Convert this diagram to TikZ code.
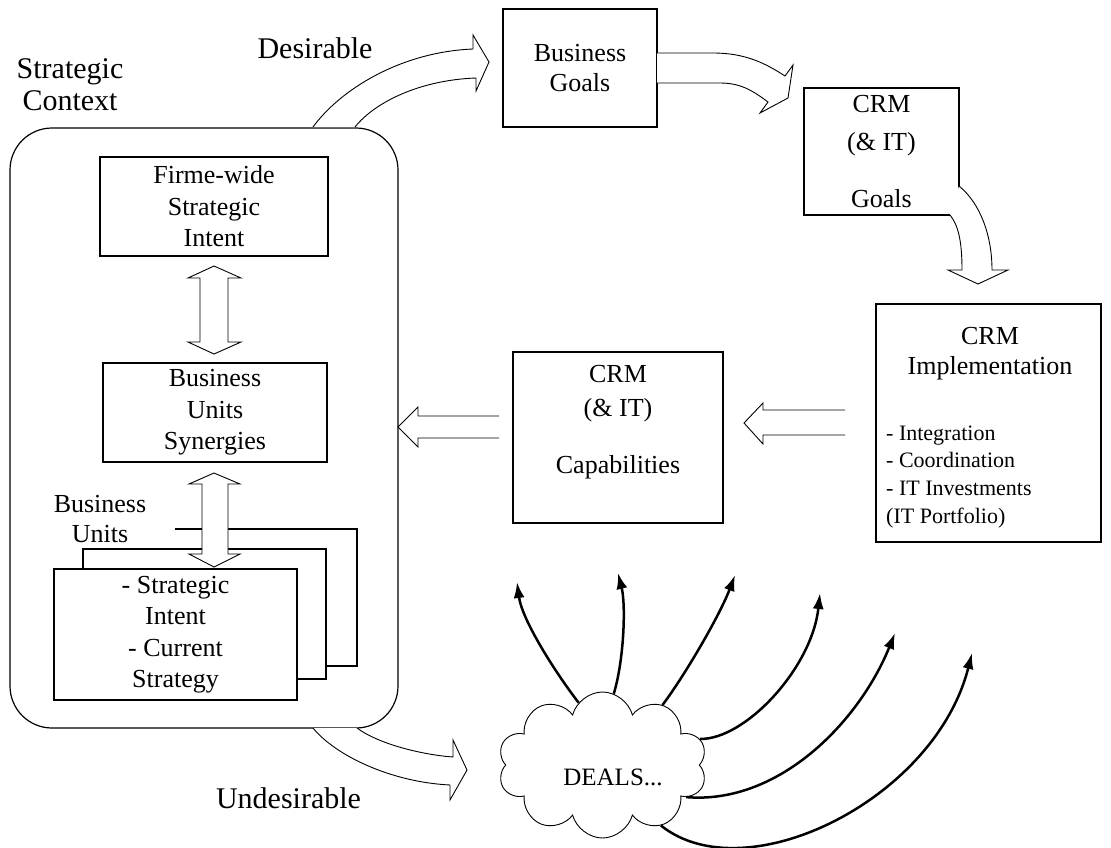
\documentclass[tikz,border=0pt]{standalone}
\usepackage{fontspec}
\setmainfont{Liberation Serif}
\usetikzlibrary{arrows.meta,shapes.symbols}

\tikzset{
  box/.style={draw, line width=1.2pt, fill=white, inner sep=0pt, align=center,
              font=\fontsize{26}{31.5}\selectfont},
  txt/.style={inner sep=0pt, align=center, font=\fontsize{26}{31.5}\selectfont},
  lbl/.style={inner sep=0pt, align=center, font=\fontsize{30}{32}\selectfont},
  blk/.style={draw, line width=0.9pt, fill=white, line join=miter},
  deal/.style={line width=2.5pt, -{Latex[length=16pt,width=11pt]}},
}

\begin{document}
\begin{tikzpicture}[x=1pt, y=-1pt]
\useasboundingbox (0,0) rectangle (1111,847);

% strategic context panel
\node[box, fill=none, rounded corners=42pt, minimum width=388pt, minimum height=600pt] (ctx) at (204,428) {};
\node[lbl, anchor=north] (sclabel) at (70,58.5) {Strategic\\Context};

\node[box, minimum width=228pt, minimum height=99pt] (fw) at (214,206.5) {Firme-wide\\Strategic\\Intent};
\node[box, minimum width=224pt, minimum height=99pt] (bus) at (215,412.5) {Business\\Units\\Synergies};

% stacked business unit sheets
\draw[line width=1.2pt] (175,529) -| (357,666) -- (326,666);
\node[box, minimum width=243pt, minimum height=130pt] (bumid) at (204.5,614) {};
\node[box, minimum width=243pt, minimum height=131pt] (bufront) at (175.5,634.5) {- Strategic\\Intent\\- Current\\Strategy};
\node[txt, anchor=north, font=\fontsize{26}{30}\selectfont] (bulabel) at (100,495.5) {Business\\Units};

% vertical double arrows
\path[blk] (214,266) -- (241,278) -- (228,278) -- (228,342) -- (241,342) -- (214,354)
  -- (188,342) -- (200,342) -- (200,278) -- (188,278) -- cycle;
\path[blk] (214,473) -- (240,484) -- (228,484) -- (228,554) -- (240,554) -- (214,567)
  -- (189,554) -- (202,554) -- (202,484) -- (189,484) -- cycle;

% goal boxes
\node[box, minimum width=154pt, minimum height=118pt, font=\fontsize{26}{30}\selectfont] (bg) at (580,68) {Business\\Goals};
\node[box, minimum width=155pt, minimum height=127pt] (cg) at (881.5,151.5) {CRM\\[6.5pt](\& IT)\\[25.5pt]Goals};

% implementation
\node[box, minimum width=225pt, minimum height=238pt] (impl) at (988.5,423) {};
\node[txt, anchor=north, font=\fontsize{26}{30}\selectfont] (impltitle) at (990,327.5) {CRM\\Implementation};
\node[inner sep=0pt, anchor=north west, align=left, font=\fontsize{22}{27.7}\selectfont] (impllist) at (886,425.4)
  {- Integration\\- Coordination\\- IT Investments\\(IT Portfolio)};

% capabilities
\node[box, minimum width=210pt, minimum height=171pt] (cap) at (618,437.5) {};
\node[txt, anchor=north] (captxt) at (618,365) {CRM\\[2.5pt](\& IT)\\[25.5pt]Capabilities};

% flow arrows
\path[blk] (313,127) .. controls (340,90) and (400,52) .. (473,49) -- (473,35) -- (489,62)
  -- (476,91) -- (476,78) .. controls (420,80) and (375,102) .. (355,127);
\path[blk] (657,53) -- (713,53) .. controls (745,53) and (765,63) .. (785,76) -- (793,65)
  -- (788,98) -- (760,113) -- (768,102) .. controls (752,90) and (740,83) .. (720,83) -- (657,83);
\path[blk] (959,186) .. controls (980,203) and (992,235) .. (992,270) -- (1008,270) -- (978,284)
  -- (948,270) -- (962,270) .. controls (962,240) and (958,225) .. (950,215);
\path[blk] (845,410) -- (763,410) -- (763,403) -- (744,423) -- (763,444) -- (763,435) -- (845,435);
\path[blk] (499,416) -- (418,416) -- (418,407) -- (398,427) -- (418,447) -- (418,438) -- (499,438);
\path[blk] (313,728) .. controls (335,755) and (390,782) .. (450,785) -- (450,800) -- (467,770)
  -- (453,740) -- (453,757) .. controls (425,755) and (380,745) .. (357,728);

\node[lbl, anchor=base] (des) at (315,58) {Desirable};
\node[lbl, anchor=base] (undes) at (288.5,808) {Undesirable};

% deals cloud
\node[cloud, cloud puffs=10, cloud ignores aspect, draw, line width=0.9pt, fill=white,
      minimum width=209pt, minimum height=146pt] (cloud) at (602.5,765) {};
\node[inner sep=0pt, anchor=base, font=\fontsize{25}{30}\selectfont] (dealstxt) at (613,785) {DEALS...};

\coordinate (e1) at (517,582);
\coordinate (e2) at (618,573);
\coordinate (e3) at (735,575);
\coordinate (e4) at (820,593);
\coordinate (e5) at (895,633);
\coordinate (e6) at (972,653);
\draw[deal] (cloud.111) .. controls (555,672) and (522,620) .. (e1);
\draw[deal] (cloud.81) .. controls (624,660) and (626,605) .. (e2);
\draw[deal] (cloud.45) .. controls (685,675) and (720,615) .. (e3);
\draw[deal] (cloud.15) .. controls (745,740) and (812,668) .. (e4);
\draw[deal] (cloud.-21) .. controls (780,805) and (860,720) .. (e5);
\draw[deal] (cloud.-46) .. controls (745,893) and (935,800) .. (e6);
\end{tikzpicture}
\end{document}
